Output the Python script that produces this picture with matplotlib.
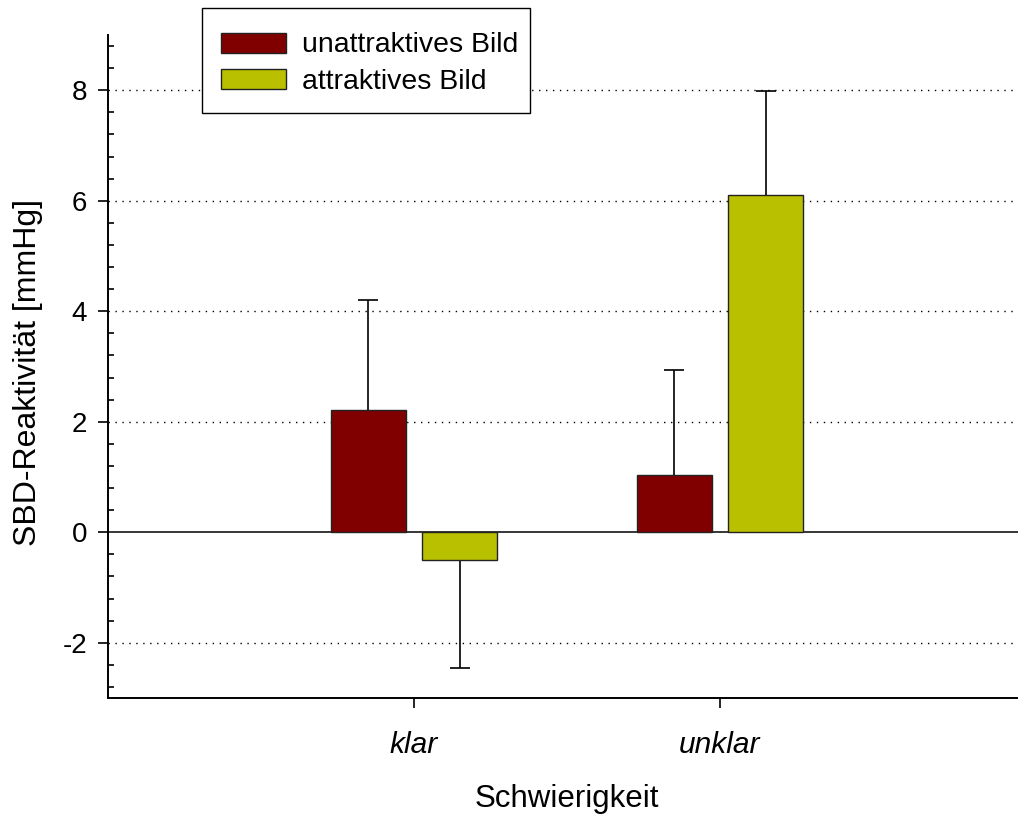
import matplotlib
matplotlib.use("Agg")
import matplotlib.pyplot as plt
import numpy as np
from matplotlib.patches import Patch, Rectangle

plt.rcParams['font.family'] = ['Liberation Sans', 'DejaVu Sans']
plt.rcParams['axes.unicode_minus'] = False

categories = ["klar", "unklar"]
series_names = ["unattraktives Bild", "attraktives Bild"]
unattractive = [2.22, 1.03]
attractive = [-0.50, 6.10]
unattractive_err = [1.98, 1.90]
attractive_err = [1.95, 1.88]
y_ticks = [-2, 0, 2, 4, 6, 8]

colors = ["#800000", "#B9C000"]

W, H = 1018, 815
fig = plt.figure(figsize=(W / 100, H / 100), dpi=100)
ax = fig.add_axes([108 / W, 117 / H, 918 / W, 663 / H])

x = np.arange(1, len(categories) + 1)
offset = 0.15
width = 0.245

for vals, errs, col, sign in [(unattractive, unattractive_err, colors[0], -1),
                              (attractive, attractive_err, colors[1], 1)]:
    xpos = x + sign * offset
    ax.bar(xpos, vals, width=width, color=col, edgecolor="#222222",
           linewidth=1.0, zorder=3)
    # one-sided error bars pointing away from zero, capped at the far end
    ends = [v + e if v >= 0 else v - e for v, e in zip(vals, errs)]
    ax.vlines(xpos, vals, ends, color="black", linewidth=1.2, zorder=2)
    ax.plot(xpos, ends, linestyle="none", marker="_", markersize=14.4,
            markeredgewidth=1.2, color="black", zorder=2)

# dotted gridlines at the labelled values, solid line at zero
for t in y_ticks:
    if t == 0:
        ax.axhline(0, color="black", linewidth=1.1, zorder=1)
    else:
        ax.axhline(t, color="black", linewidth=1.0, linestyle=(0, (1, 4)),
                   zorder=1)

ax.set_xlim(0, 3)
ax.set_ylim(-3, 9)
ax.set_yticks(y_ticks)
ax.set_yticks(np.arange(-2.8, 9.01, 0.4), minor=True)
ax.set_xticks(x)
ax.set_xticklabels(categories, fontsize=21.5, style="italic")
ax.tick_params(axis="y", which="major", direction="out", length=7,
               width=1.2, labelsize=20, pad=8)
ax.tick_params(axis="y", which="minor", direction="in", length=4.5, width=1.2)
ax.tick_params(axis="x", which="major", direction="out", length=7,
               width=1.2, pad=17)

for s in ["top", "right"]:
    ax.spines[s].set_visible(False)
for s in ["left", "bottom"]:
    ax.spines[s].set_linewidth(1.4)

ax.set_xlabel("Schwierigkeit", fontsize=22.5, labelpad=18)
ax.set_ylabel("SBD-Reaktivität [mmHg]", fontsize=23)
ax.yaxis.set_label_coords(-0.071, 0.491)

# legend: entries placed freely, frame drawn as a separate box
handles = [Patch(facecolor=c, edgecolor="#222222", linewidth=1.0) for c in colors]
leg = fig.legend(handles, series_names, loc="upper left",
                 bbox_to_anchor=(221 / W, 1 - 32.5 / H),
                 bbox_transform=fig.transFigure, fontsize=20.4, frameon=False,
                 borderaxespad=0, borderpad=0,
                 handlelength=2.3, handleheight=0.7, handletextpad=0.57,
                 labelspacing=0.37)
fig.add_artist(Rectangle((202 / W, 1 - 113 / H), 328 / W, 105 / H,
                         transform=fig.transFigure, facecolor="white",
                         edgecolor="black", linewidth=1.0, zorder=4))
leg.set_zorder(5)

fig.savefig("out.png", dpi=100)
